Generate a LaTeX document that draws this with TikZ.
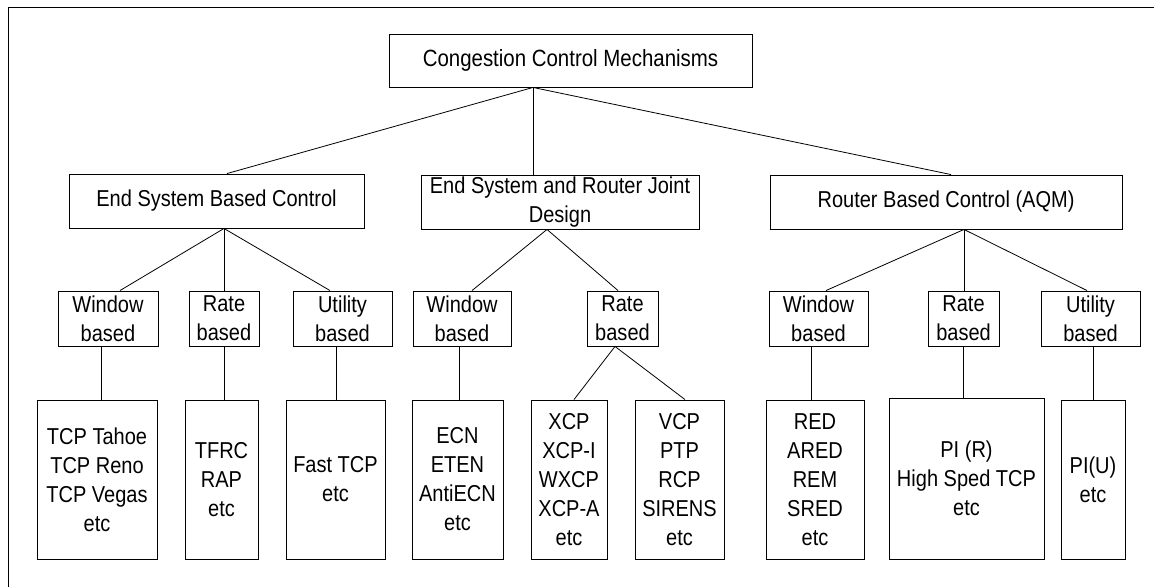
\documentclass[tikz,border=0pt]{standalone}
\usepackage{fontspec}
\setmainfont{Liberation Sans}[FakeStretch=0.87]
\usetikzlibrary{calc}
\tikzset{
	box/.style={draw, line width=0.9pt, inner sep=0pt, align=center, font=\fontsize{23}{29}\selectfont},
	link/.style={line width=0.8pt}
}

\begin{document}
\begin{tikzpicture}[x=1pt, y=-1pt]
				\useasboundingbox (0,0) rectangle (1154,587);
				\draw[line width=1pt] (8,587) -- (8,7) -- (1154,7);
				
				\node[box, minimum width=363, minimum height=53, font=\fontsize{23.5}{29}\selectfont] (ccm) at (570.5,60.5) {Congestion Control Mechanisms};
				
				\node[box, minimum width=295, minimum height=54] (esb) at (216.5,201) {End System Based Control};
				\node[box, minimum width=278, minimum height=54] (joint) at (560,202) {End System and Router Joint\\Design};
				\node[box, minimum width=352, minimum height=54] (rbc) at (946,202) {Router Based Control (AQM)};
				
				\node[box, minimum width=100, minimum height=55] (esbwin) at (108,318.5) {Window\\based};
				\node[box, minimum width=70, minimum height=55] (esbrate) at (224,318.5) {Rate\\based};
				\node[box, minimum width=99, minimum height=55] (esbutil) at (342.5,318.5) {Utility\\based};
				\node[box, minimum width=98, minimum height=55] (jointwin) at (462,318.5) {Window\\based};
				\node[box, minimum width=71, minimum height=55] (jointrate) at (622.5,318.5) {Rate\\based};
				\node[box, minimum width=99, minimum height=55] (rbcwin) at (818.5,318.5) {Window\\based};
				\node[box, minimum width=71, minimum height=55] (rbcrate) at (963.5,318.5) {Rate\\based};
				\node[box, minimum width=99, minimum height=55] (rbcutil) at (1090.5,318.5) {Utility\\based};
				
				\node[box, minimum width=120, minimum height=159] (tcp) at (97,479.5) {TCP Tahoe\\TCP Reno\\TCP Vegas\\etc};
				\node[box, minimum width=73, minimum height=159] (tfrc) at (221.5,479.5) {TFRC\\RAP\\etc};
				\node[box, minimum width=99, minimum height=159] (fast) at (335.5,479.5) {Fast TCP\\etc};
				\node[box, minimum width=91, minimum height=159] (ecn) at (457.5,479.5) {ECN\\ETEN\\AntiECN\\etc};
				\node[box, minimum width=76, minimum height=159] (xcp) at (569,479.5) {XCP\\XCP-I\\WXCP\\XCP-A\\etc};
				\node[box, minimum width=89, minimum height=159] (vcp) at (679.5,479.5) {VCP\\PTP\\RCP\\SIRENS\\etc};
				\node[box, minimum width=98, minimum height=159] (red) at (815,479.5) {RED\\ARED\\REM\\SRED\\etc};
				\node[box, minimum width=155, minimum height=161] (pir) at (966.5,478.5) {PI (R)\\High Sped TCP\\etc};
				\node[box, minimum width=64, minimum height=159] (piu) at (1093,479.5) {PI(U)\\etc};
				
				\draw[link] (ccm.south -| 533,0) -- (esb.north -| 227,0);
				\draw[link] (ccm.south -| 533,0) -- (joint.north -| 533,0);
				\draw[link] (ccm.south -| 533,0) -- (rbc.north -| 951,0);
				
				\draw[link] (esb.south -| 224,0) -- (esbwin.north -| 120,0);
				\draw[link] (esb.south -| 224,0) -- (esbrate.north -| 224,0);
				\draw[link] (esb.south -| 224,0) -- (esbutil.north -| 330,0);
				\draw[link] (joint.south -| 547,0) -- (jointwin.north -| 472,0);
				\draw[link] (joint.south -| 547,0) -- (jointrate.north -| 618,0);
				\draw[link] (rbc.south -| 964,0) -- (rbcwin.north -| 826,0);
				\draw[link] (rbc.south -| 964,0) -- (rbcrate.north -| 964,0);
				\draw[link] (rbc.south -| 964,0) -- (rbcutil.north -| 1087,0);
				
				\draw[link] (esbwin.south -| 101,0) -- (tcp.north -| 101,0);
				\draw[link] (esbrate.south -| 224,0) -- (tfrc.north -| 224,0);
				\draw[link] (esbutil.south -| 336,0) -- (fast.north -| 336,0);
				\draw[link] (jointwin.south -| 459,0) -- (ecn.north -| 459,0);
				\draw[link] (jointrate.south -| 615,0) -- (xcp.north -| 574,0);
				\draw[link] (jointrate.south -| 615,0) -- (vcp.north -| 685,0);
				\draw[link] (rbcwin.south -| 811,0) -- (red.north -| 811,0);
				\draw[link] (rbcrate.south -| 963,0) -- (pir.north -| 963,0);
				\draw[link] (rbcutil.south -| 1093,0) -- (piu.north -| 1093,0);
			\end{tikzpicture}
\end{document}
